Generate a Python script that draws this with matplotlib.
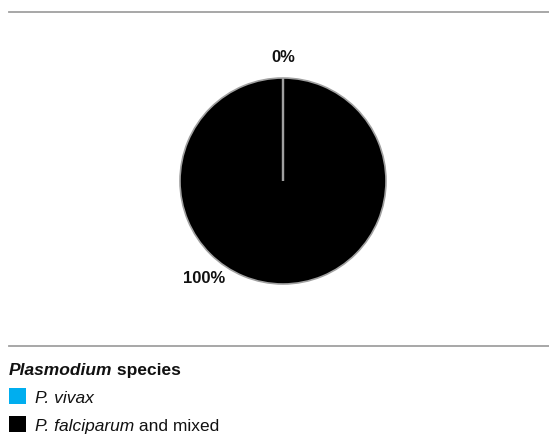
import matplotlib
matplotlib.use("Agg")
import matplotlib.pyplot as plt
import numpy as np

species = ["P. vivax", "P. falciparum and mixed"]
shares = [0, 100]
colors = ["#00aeef", "#000000"]

W, H = 549, 434
plt.rcParams["font.family"] = ["Liberation Sans", "DejaVu Sans"]

fig = plt.figure(figsize=(W / 100, H / 100), dpi=100)
fig.patch.set_facecolor("white")

# pie axes: centre (283, 181) px, radius 103 px
cx, cy, r = 283, 181, 103
ax = fig.add_axes([(cx - r) / W, 1 - (cy + r) / H, 2 * r / W, 2 * r / H])
ax.axis("off")

edge = "#a0a0a0"
wedges, _ = ax.pie(shares, colors=colors, startangle=90, counterclock=True,
                   radius=1, wedgeprops=dict(edgecolor=edge, linewidth=1.2))
ax.set_xlim(-1, 1)
ax.set_ylim(-1, 1)
ax.set_aspect("equal")

# empty slices collapse to nothing, so draw the wedge boundaries as radii
for w in wedges:
    a = np.deg2rad(w.theta1)
    ax.plot([0, w.r * np.cos(a)], [0, w.r * np.sin(a)], color=edge, lw=1.6,
            solid_capstyle="butt", zorder=5)

# percentage labels, placed just outside the rim
label_angles = [90, 231]
label_dist = [1.2, 1.22]
for val, ang, d in zip(shares, label_angles, label_dist):
    a = np.deg2rad(ang)
    ax.text(d * np.cos(a), d * np.sin(a), f"{val}%", ha="center", va="center",
            fontsize=12, fontweight="bold", color="#111111")

# horizontal rules
for y in (12, 346):
    fig.add_artist(plt.Line2D([9 / W, 1], [1 - y / H, 1 - y / H], color=edge,
                              linewidth=1.3, transform=fig.transFigure))

renderer = fig.canvas.get_renderer()


def put_runs(x, y, runs):
    # consecutive text pieces with different styles on one baseline
    for txt, style in runs:
        t = fig.text(x / W, 1 - y / H, txt, ha="left", va="baseline", fontsize=12.5,
                     color="#111111", **style)
        x += t.get_window_extent(renderer=renderer).width


put_runs(9, 375, [("Plasmodium", dict(fontweight="bold", fontstyle="italic")),
                  (" species", dict(fontweight="bold"))])

item_runs = [
    [("P. vivax", dict(fontstyle="italic"))],
    [("P. falciparum", dict(fontstyle="italic")), (" and mixed", {})],
]
item_y = [403, 431]
for col, runs, y in zip(colors, item_runs, item_y):
    fig.add_artist(plt.Rectangle((9 / W, 1 - (y + 1) / H), 17 / W, 16 / H,
                                 facecolor=col, edgecolor="none", transform=fig.transFigure))
    put_runs(35, y, runs)

fig.savefig("out.png", dpi=100, facecolor="white")
